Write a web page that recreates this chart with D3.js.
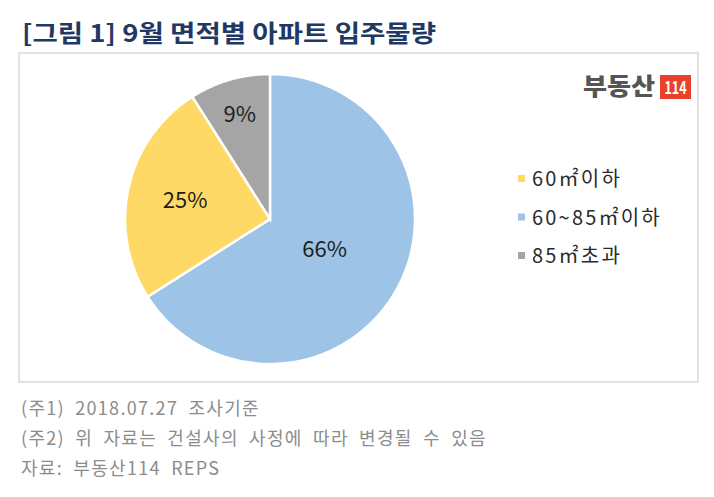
<!DOCTYPE html>
<html>
<head>
<meta charset="utf-8">
<script src="https://cdnjs.cloudflare.com/ajax/libs/d3/7.8.5/d3.min.js"></script>
<style>
  body { margin: 0; background: #fff; }
  svg { display: block; font-family: "Noto Sans CJK KR", "Noto Sans", sans-serif; }
</style>
</head>
<body>
<svg id="chart"></svg>
<script>
// legend order
let categories = ["60㎡이하", "60~85㎡이하", "85㎡초과"]
let shares = [25, 66, 9]
let colors = ["#ffd966", "#9dc3e6", "#a5a5a5"]
// order the slices go round the pie, clockwise from 12 o'clock
let sliceOrder = [1, 0, 2]

let title = "[그림 1] 9월 면적별 아파트 입주물량"
let notes = ["(주1) 2018.07.27 조사기준", "(주2) 위 자료는 건설사의 사정에 따라 변경될 수 있음", "자료: 부동산114 REPS"]

let width = 714
let height = 497

let svg = d3.select("#chart").attr("width", width).attr("height", height)

// title
svg.append("text")
   .attr("x", 22)
   .attr("y", 42)
   .attr("font-size", 24)
   .attr("font-weight", "bold")
   .attr("fill", "#1f3864")
   .attr("textLength", 414)
   .attr("lengthAdjust", "spacingAndGlyphs")
   .text(title)

// chart frame
svg.append("rect")
   .attr("x", 19).attr("y", 53)
   .attr("width", 679).attr("height", 329)
   .attr("fill", "#fff")
   .attr("stroke", "#e2e2e2")
   .attr("stroke-width", 2)

// pie
let cx = 270, cy = 219, r = 145
let pieData = sliceOrder.map(i => ({ i: i, value: shares[i] }))
let pie = d3.pie().sort(null).value(d => d.value)
let arcs = pie(pieData)
let arc = d3.arc().innerRadius(0).outerRadius(r)

let g = svg.append("g").attr("transform", "translate(" + cx + "," + cy + ")")

g.selectAll("path")
 .data(arcs)
 .enter()
 .append("path")
 .attr("d", arc)
 .attr("fill", d => colors[d.data.i])
 .attr("stroke", "#fff")
 .attr("stroke-width", 2.5)

// label distance from center (fraction of radius), per slice like Excel's best fit
let labelR = { 0: 0.6, 1: 0.43, 2: 0.75 }
g.selectAll(".lbl")
 .data(arcs)
 .enter()
 .append("text")
 .attr("class", "lbl")
 .attr("transform", d => {
     let a = (d.startAngle + d.endAngle) / 2
     let k = r * labelR[d.data.i]
     return "translate(" + (Math.sin(a) * k) + "," + (-Math.cos(a) * k) + ")"
 })
 .attr("text-anchor", "middle")
 .attr("dy", "0.36em")
 .attr("font-size", 22)
 .attr("fill", "#1e1e1e")
 .text(d => d.data.value + "%")

// legend
let legend = svg.append("g").attr("transform", "translate(518,179)")
let rows = legend.selectAll("g")
                 .data(categories)
                 .enter()
                 .append("g")
                 .attr("transform", (d, i) => "translate(0," + (i * 38.5) + ")")
rows.append("rect")
    .attr("x", 0).attr("y", -4)
    .attr("width", 7).attr("height", 7)
    .attr("fill", (d, i) => colors[i])
rows.append("text")
    .attr("x", 14)
    .attr("dy", "0.36em")
    .attr("font-size", 20)
    .attr("letter-spacing", 2.2)
    .attr("fill", "#2b2b2b")
    .text(d => d)

// logo
let logo = svg.append("g").attr("transform", "translate(583,97)")
logo.append("text")
    .attr("x", 0).attr("y", -2)
    .attr("font-size", 24)
    .attr("font-weight", 900)
    .attr("fill", "#555")
    .attr("textLength", 72)
    .attr("lengthAdjust", "spacingAndGlyphs")
    .text("부동산")
logo.append("rect")
    .attr("x", 77).attr("y", -22)
    .attr("width", 31).attr("height", 24)
    .attr("fill", "#e8412c")
logo.append("text")
    .attr("x", 92.5).attr("y", -3)
    .attr("text-anchor", "middle")
    .attr("font-size", 17)
    .attr("font-weight", "bold")
    .attr("fill", "#fff")
    .attr("textLength", 22)
    .attr("lengthAdjust", "spacingAndGlyphs")
    .text("114")

// notes
svg.selectAll(".note")
   .data(notes)
   .enter()
   .append("text")
   .attr("class", "note")
   .attr("x", 21)
   .attr("y", (d, i) => 415 + i * 30)
   .attr("font-size", 18)
   .attr("letter-spacing", 1.3)
   .attr("word-spacing", 5)
   .attr("fill", "#8c8c8c")
   .text(d => d)
</script>
</body>
</html>
